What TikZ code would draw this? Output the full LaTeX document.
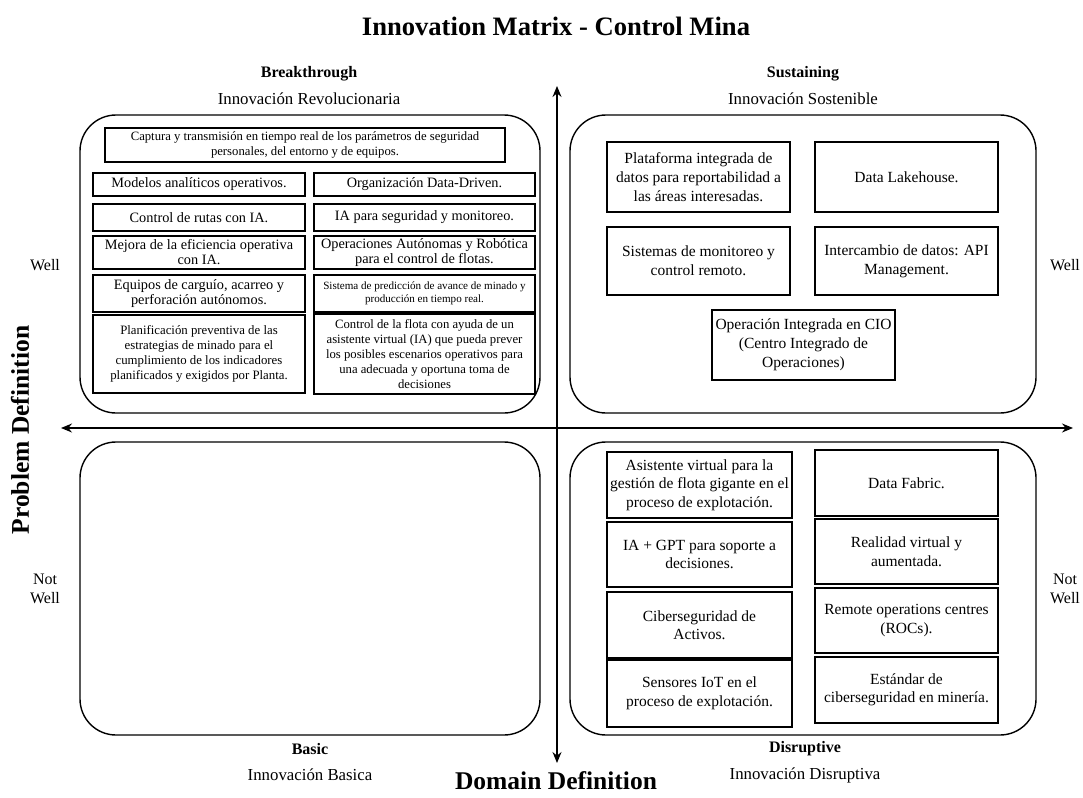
\documentclass[tikz,border=0pt]{standalone}
\usepackage{fontspec}
\setmainfont{Liberation Serif}
\usetikzlibrary{arrows.meta}

\tikzset{
  quadrant/.style={draw, line width=1.4pt, rounded corners=36pt},
  idea/.style={draw, line width=1.2pt, align=center, inner sep=0.5pt},
  dims/.style 2 args={minimum width=#1, minimum height=#2},
  axis/.style={line width=1.4pt, {Stealth[length=11pt,width=9pt]}-{Stealth[length=11pt,width=9pt]}},
  kind/.style={font=\fontsize{16}{19}\selectfont\bfseries},
  sub/.style={font=\fontsize{16.8}{20}\selectfont},
  side/.style={font=\fontsize{16}{18.5}\selectfont, align=center},
  big/.style={font=\fontsize{25.5}{30}\selectfont\bfseries}
}

\begin{document}
\begin{tikzpicture}[x=1pt, y=-1pt]
    \useasboundingbox (0,0) rectangle (1083,797);

    \node[big, font=\fontsize{26.6}{31}\selectfont\bfseries] (title) at (556,26) {Innovation Matrix - Control Mina};

    % ejes
    \coordinate (ytop) at (557,86);
    \coordinate (ybot) at (557,763);
    \coordinate (xleft) at (61,428);
    \coordinate (xright) at (1073,428);
    \draw[axis] (ybot) -- (ytop);
    \draw[axis] (xleft) -- (xright);

    % cuadrantes
    \node[quadrant, dims={460}{298}] (qbt) at (310,264) {};
    \node[quadrant, dims={466}{298}] (qsu) at (803,264) {};
    \node[quadrant, dims={460}{293}] (qba) at (310,588.5) {};
    \node[quadrant, dims={466}{293}] (qdi) at (803,588.5) {};

    % titulos de cuadrante
    \node[kind] (tbt) at (309,74) {Breakthrough};
    \node[sub] (sbt) at (309,99) {Innovación Revolucionaria};
    \node[kind] (tsu) at (803,74) {Sustaining};
    \node[sub] (ssu) at (803,99) {Innovación Sostenible};
    \node[kind] (tba) at (310,749) {Basic};
    \node[sub] (sba) at (310,775) {Innovación Basica};
    \node[kind] (tdi) at (805,749) {Disruptive};
    \node[sub] (sdi) at (805,775) {Innovación Disruptiva};

    \node[big] (domain) at (556,781) {Domain Definition};
    \node[big, rotate=90] (problem) at (20,430) {Problem Definition};

    \node[side] (wl) at (45,265) {Well};
    \node[side] (wr) at (1065,265) {Well};
    \node[side] (nwl) at (45,589) {Not\\Well};
    \node[side] (nwr) at (1065,589) {Not\\Well};

    % Breakthrough
    \begin{scope}[every node/.append style={font=\fontsize{14.3}{15}\selectfont}]
    \node[idea, dims={400}{34}, font=\fontsize{12.7}{14.5}\selectfont] (b0) at (305,145)
      {Captura y transmisión en tiempo real de los parámetros de seguridad\\personales, del entorno y de equipos.};
    \node[idea, dims={212}{23}] (b1) at (199,184.5) {Modelos analíticos operativos.};
    \node[idea, dims={221}{23}] (b2) at (424.5,184.5) {Organización Data-Driven.};
    \node[idea, dims={212}{27}] (b3) at (199,217.5) {Control de rutas con IA.};
    \node[idea, dims={221}{27}] (b4) at (424.5,217.5) {IA para seguridad y monitoreo.};
    \node[idea, dims={212}{33}] (b5) at (199,252.5) {Mejora de la eficiencia operativa\\con IA.};
    \node[idea, dims={221}{33}] (b6) at (424.5,252.5) {Operaciones Autónomas y Robótica\\para el control de flotas.};
    \node[idea, dims={212}{37}] (b7) at (199,293.5) {Equipos de carguío, acarreo y\\perforación autónomos.};
    \node[idea, dims={221}{37}, font=\fontsize{11.1}{13.5}\selectfont] (b8) at (424.5,293.5)
      {Sistema de predicción de avance de minado y\\producción en tiempo real.};
    \node[idea, dims={212}{78}, font=\fontsize{12.8}{15}\selectfont] (b9) at (199,354)
      {Planificación preventiva de las\\estrategias de minado para el\\cumplimiento de los indicadores\\planificados y exigidos por Planta.};
    \node[idea, dims={221}{80}, font=\fontsize{12.7}{14.8}\selectfont] (b10) at (424.5,354)
      {Control de la flota con ayuda de un\\asistente virtual (IA) que pueda prever\\los posibles escenarios operativos para\\una adecuada y oportuna toma de\\decisiones};
    \end{scope}

    % Sustaining
    \begin{scope}[every node/.append style={font=\fontsize{15.5}{19}\selectfont}]
    \node[idea, dims={183}{70}] (s1) at (698.5,177) {Plataforma integrada de\\datos para reportabilidad a\\las áreas interesadas.};
    \node[idea, dims={183}{70}] (s2) at (906.5,177) {Data Lakehouse.};
    \node[idea, dims={183}{68}] (s3) at (698.5,261) {Sistemas de monitoreo y\\control remoto.};
    \node[idea, dims={183}{68}] (s4) at (906.5,261) {Intercambio de datos: API\\Management.};
    \node[idea, dims={183}{70}] (s5) at (803.5,345) {Operación Integrada en CIO\\(Centro Integrado de\\Operaciones)};
    \end{scope}

    % Disruptive
    \begin{scope}[every node/.append style={font=\fontsize{15.5}{18.5}\selectfont}]
    \node[idea, dims={185}{66}] (d1) at (699.5,485) {Asistente virtual para la\\gestión de flota gigante en el\\proceso de explotación.};
    \node[idea, dims={185}{65}] (d2) at (699.5,554.5) {IA + GPT para soporte a\\decisiones.};
    \node[idea, dims={185}{66}] (d3) at (699.5,625) {Ciberseguridad de\\Activos.};
    \node[idea, dims={185}{67}] (d4) at (699.5,693.5) {Sensores IoT en el\\proceso de explotación.};
    \node[idea, dims={183}{66}] (d5) at (906.5,483) {Data Fabric.};
    \node[idea, dims={183}{65}] (d6) at (906.5,551.5) {Realidad virtual y\\aumentada.};
    \node[idea, dims={183}{65}] (d7) at (906.5,620.5) {Remote operations centres\\(ROCs).};
    \node[idea, dims={183}{66}] (d8) at (906.5,690) {Estándar de\\ciberseguridad en minería.};
    \end{scope}
\end{tikzpicture}
\end{document}
